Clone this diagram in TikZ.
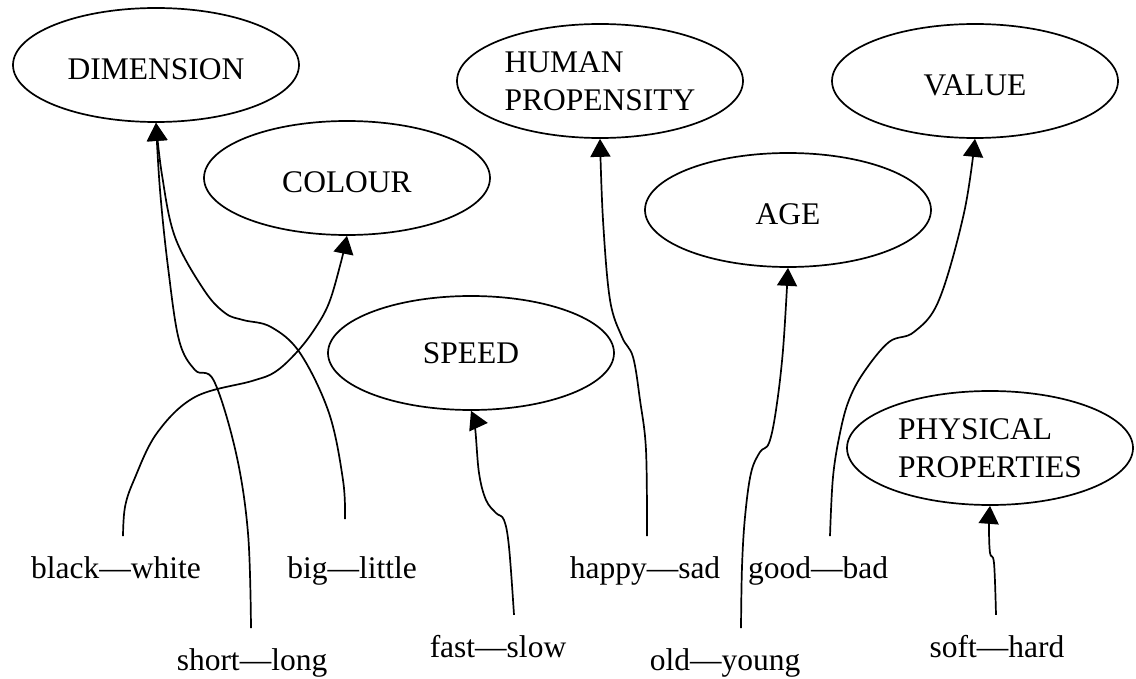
\documentclass[tikz,border=0pt]{standalone}
\usepackage{fontspec}
\setmainfont{Liberation Serif}
\usepackage{tikz}
\usetikzlibrary{shapes.geometric,arrows.meta}

\begin{document}
\begin{tikzpicture}[
    x=1pt, y=-1pt,
    font=\fontsize{31.5}{38}\selectfont,
    class/.style={draw, ellipse, line width=1.7pt, minimum width=286pt, minimum height=114pt, inner sep=0pt, align=left},
    word/.style={class, text height=30pt, text depth=0pt},
    pair/.style={inner sep=0pt, outer xsep=0pt, outer ysep=20pt, anchor=base},
    link/.style={line width=1.7pt, -{Triangle[length=18pt,width=20pt]}}
]
    \useasboundingbox (0,0) rectangle (1136,679);

    % categories
    \node [word]  (dim) at (156,65)  {DIMENSION};
    \node [word]  (col) at (347,178) {COLOUR};
    \node [class] (hum) at (600,81)  {HUMAN\\PROPENSITY};
    \node [word]  (val) at (975,81)  {VALUE};
    \node [word]  (age) at (788,210) {AGE};
    \node [class] (spd) at (471,353) {SPEED};
    \node [class] (phy) at (990,448) {PHYSICAL\\PROPERTIES};

    % opposite pairs
    \node [pair] (bw) at (116,578) {black—white};
    \node [pair] (bl) at (352,578) {big—little};
    \node [pair] (sl) at (252,670) {short—long};
    \node [pair] (fs) at (498,657) {fast—slow};
    \node [pair] (hs) at (645,578) {happy—sad};
    \node [pair] (gb) at (818,578) {good—bad};
    \node [pair] (oy) at (725,670) {old—young};
    \node [pair] (sh) at (997,657) {soft—hard};

    % each pair points up to its category
    \draw [link] plot [smooth, tension=0.6] coordinates {([xshift=-1pt]sl.north) (248,533) (236,453) (214,381) (195,370) (179,340) (168,267) (160,190) (dim.south)};
    \draw [link] plot [smooth, tension=0.6] coordinates {([xshift=-7pt,yshift=17pt]bl.north) (343,480) (329,413) (300,353) (271,327) (243,320) (225,313) (204,290) (175,237) (162,175) (dim.south)};
    \draw [link] plot [smooth, tension=0.6] coordinates {([xshift=7pt]bw.north) (125,507) (134,480) (157,433) (195,397) (252,381) (275,372) (296,353) (314,330) (329,303) (341,262) (col.south)};
    \draw [link] plot [smooth, tension=0.6] coordinates {([xshift=16pt]fs.north) (509,547) (504,520) (496,513) (486,500) (479,473) (475,427) (spd.south)};
    \draw [link] plot [smooth, tension=0.6] coordinates {([xshift=2pt]hs.north) (646,450) (640,400) (633,357) (622,337) (610,300) (603,220) (hum.south)};
    \draw [link] plot [smooth, tension=0.6] coordinates {([xshift=16pt]oy.north) (742,567) (745,517) (751,473) (760,452) (769,443) (776,410) (783,350) (age.south)};
    \draw [link] plot [smooth, tension=0.6] coordinates {([xshift=12pt]gb.north) (833,477) (840,433) (849,400) (864,372) (889,342) (914,332) (939,300) (964,213) (val.south)};
    \draw [link] plot [smooth, tension=0.6] coordinates {([xshift=-1pt]sh.north) (994,563) (990,553) (989,527) (phy.south)};
\end{tikzpicture}
\end{document}
